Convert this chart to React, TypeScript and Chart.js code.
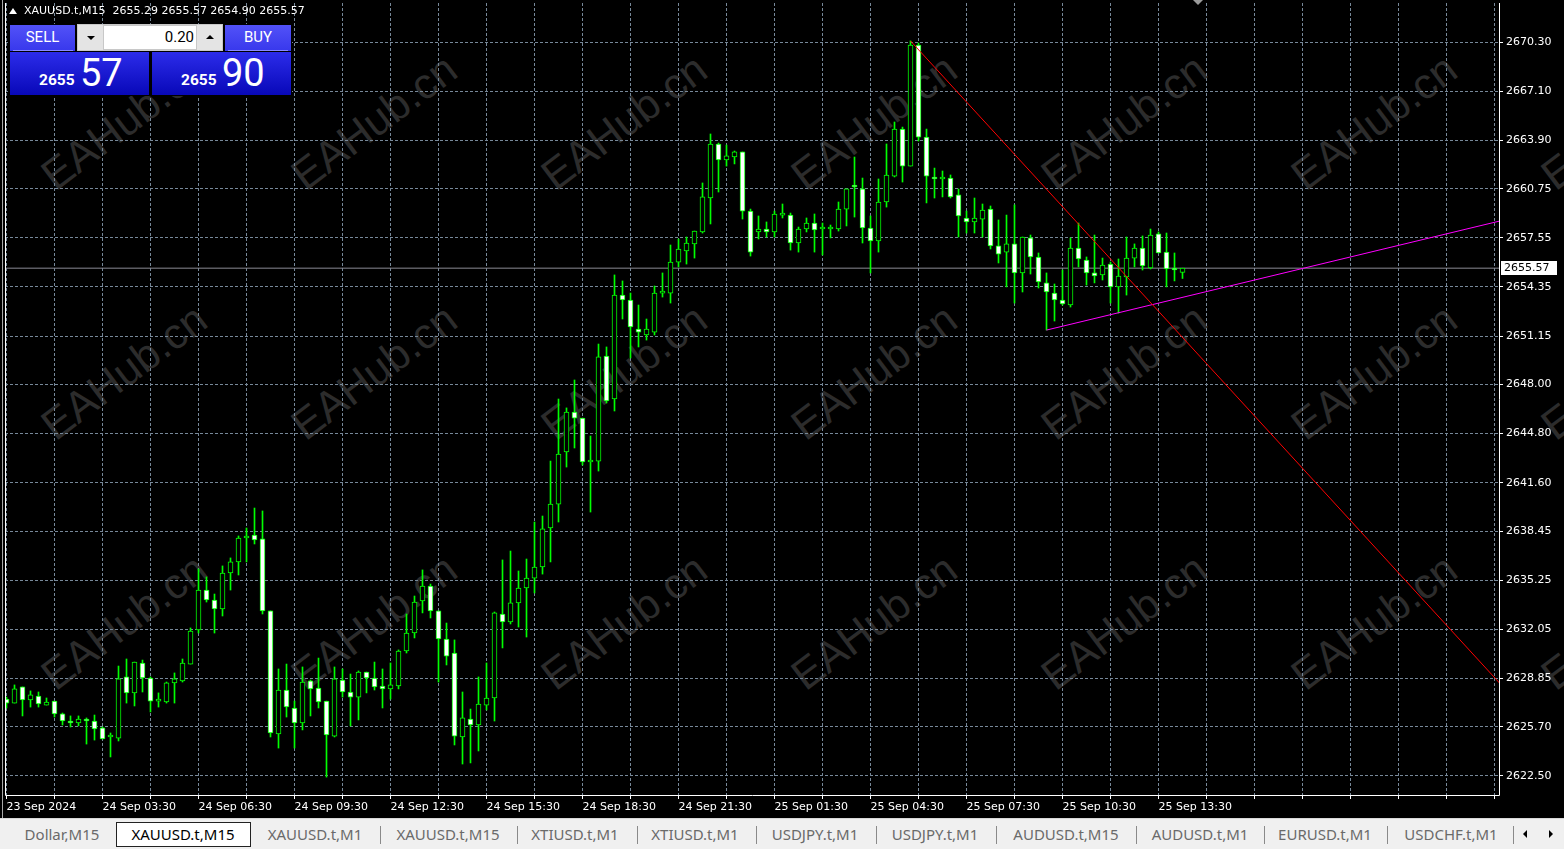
import React, { useEffect, useRef } from 'react';
import { Chart, registerables } from 'chart.js';

Chart.register(...registerables);

// ---- OHLC data (XAUUSD.t, M15), one entry per bar ----
const opens = [
  2627.51, 2627.25, 2628.30, 2627.45, 2627.71, 2627.12, 2627.38, 2626.54, 2626.08, 2625.95,
  2626.21, 2626.08, 2625.63, 2625.04, 2624.97, 2628.95, 2627.91, 2629.86, 2628.88, 2627.38,
  2627.32, 2628.56, 2628.69, 2629.79, 2632.01, 2634.61, 2633.96, 2633.38, 2635.72, 2636.44,
  2638.00, 2638.19, 2637.94, 2633.25, 2625.24, 2628.10, 2626.93, 2625.95, 2628.69, 2628.23,
  2627.38, 2625.10, 2628.75, 2627.97, 2627.64, 2629.27, 2628.88, 2628.36, 2628.17, 2628.36,
  2630.64, 2631.81, 2633.90, 2634.87, 2633.25, 2631.42, 2630.51, 2625.04, 2626.21, 2625.82,
  2627.12, 2627.58, 2633.05, 2632.53, 2633.77, 2634.74, 2635.39, 2636.11, 2638.65, 2640.21,
  2643.60, 2646.20, 2645.81, 2642.95, 2643.01, 2649.85, 2647.05, 2653.82, 2653.50, 2651.61,
  2651.22, 2651.41, 2653.95, 2653.95, 2655.97, 2656.69, 2657.15, 2657.93, 2660.14, 2663.66,
  2662.62, 2662.81, 2663.14, 2659.29, 2657.93, 2658.12, 2657.93, 2659.03, 2659.03, 2657.21,
  2658.12, 2658.51, 2658.12, 2658.12, 2658.12, 2659.42, 2660.92, 2660.73, 2658.19, 2657.34,
  2659.88, 2661.57, 2664.63, 2662.22, 2670.10, 2664.11, 2661.51, 2661.38, 2661.44, 2660.34,
  2658.84, 2658.58, 2658.77, 2659.42, 2657.02, 2656.62, 2657.15, 2655.26, 2657.54, 2656.30,
  2654.61, 2653.95, 2653.50, 2653.17, 2656.88, 2656.10, 2655.26, 2655.13, 2655.84, 2654.35,
  2655.00, 2656.23, 2656.88, 2655.58, 2657.80, 2656.62, 2655.58, 2655.29,
];
const highs = [
  2627.64, 2628.43, 2628.30, 2628.04, 2627.97, 2627.58, 2627.38, 2626.60, 2626.41, 2626.41,
  2626.28, 2626.47, 2625.69, 2625.30, 2629.66, 2630.12, 2629.92, 2630.05, 2628.95, 2627.91,
  2628.62, 2629.21, 2630.12, 2632.14, 2635.98, 2635.46, 2634.35, 2636.18, 2636.70, 2638.13,
  2638.65, 2639.95, 2639.76, 2633.25, 2629.47, 2629.79, 2627.38, 2629.60, 2628.75, 2630.18,
  2627.38, 2629.60, 2629.47, 2629.14, 2629.34, 2629.27, 2629.92, 2629.47, 2629.86, 2630.71,
  2633.05, 2634.22, 2635.92, 2635.00, 2633.25, 2632.46, 2631.36, 2627.97, 2626.86, 2628.95,
  2629.86, 2633.18, 2636.57, 2637.15, 2635.85, 2636.63, 2639.04, 2639.43, 2643.01, 2647.05,
  2646.47, 2648.29, 2645.81, 2644.64, 2650.63, 2650.44, 2655.13, 2654.74, 2653.95, 2653.17,
  2652.26, 2654.41, 2655.26, 2657.08, 2657.47, 2657.60, 2657.99, 2661.12, 2664.31, 2663.72,
  2663.59, 2663.20, 2663.14, 2659.42, 2658.97, 2658.58, 2659.29, 2659.75, 2659.16, 2658.25,
  2658.84, 2659.10, 2658.51, 2658.38, 2659.88, 2660.73, 2662.81, 2661.44, 2658.97, 2661.38,
  2663.66, 2665.09, 2664.76, 2670.37, 2670.23, 2664.63, 2662.09, 2661.90, 2661.64, 2660.73,
  2659.29, 2660.14, 2659.75, 2659.62, 2658.71, 2659.03, 2659.69, 2657.60, 2657.73, 2656.56,
  2655.26, 2654.54, 2655.45, 2657.54, 2658.51, 2656.30, 2657.73, 2656.23, 2655.97, 2656.17,
  2657.60, 2657.15, 2657.67, 2658.12, 2657.93, 2657.86, 2656.56, 2655.57,
];
const lows = [
  2626.93, 2627.25, 2626.41, 2626.99, 2626.99, 2627.12, 2626.34, 2625.82, 2625.69, 2625.76,
  2624.58, 2624.84, 2624.91, 2623.74, 2624.78, 2627.25, 2627.06, 2627.97, 2626.67, 2626.99,
  2627.25, 2627.25, 2628.62, 2629.79, 2631.81, 2633.83, 2631.81, 2632.92, 2634.61, 2635.59,
  2636.44, 2637.61, 2633.05, 2625.04, 2624.32, 2626.34, 2624.32, 2625.50, 2626.41, 2626.93,
  2622.43, 2625.04, 2627.64, 2625.76, 2626.15, 2627.91, 2628.10, 2626.93, 2627.51, 2628.17,
  2630.51, 2631.49, 2633.12, 2632.79, 2628.62, 2629.73, 2624.52, 2623.28, 2623.35, 2624.13,
  2626.80, 2626.08, 2630.84, 2632.40, 2632.20, 2631.55, 2634.42, 2635.65, 2636.44, 2639.04,
  2642.62, 2643.86, 2642.75, 2639.69, 2642.36, 2646.79, 2646.27, 2652.26, 2649.72, 2650.44,
  2650.89, 2651.22, 2653.69, 2653.30, 2655.65, 2655.84, 2656.23, 2657.86, 2658.45, 2660.53,
  2662.22, 2662.36, 2658.77, 2656.36, 2657.47, 2657.60, 2657.60, 2658.84, 2656.75, 2656.62,
  2657.93, 2656.62, 2656.43, 2657.54, 2657.99, 2658.32, 2658.90, 2657.21, 2655.26, 2656.62,
  2659.55, 2661.51, 2661.18, 2662.22, 2663.85, 2659.82, 2660.14, 2660.21, 2660.14, 2657.60,
  2657.86, 2657.86, 2657.60, 2656.82, 2655.91, 2654.35, 2653.30, 2654.02, 2655.19, 2654.28,
  2651.54, 2652.13, 2653.17, 2653.04, 2655.65, 2654.47, 2654.61, 2654.80, 2653.30, 2652.65,
  2653.82, 2655.65, 2655.45, 2655.52, 2656.56, 2654.35, 2654.74, 2654.90,
];
const closes = [
  2627.25, 2628.17, 2627.45, 2627.78, 2627.19, 2627.32, 2626.54, 2626.08, 2625.95, 2626.21,
  2626.08, 2625.56, 2624.91, 2625.04, 2628.82, 2627.91, 2629.92, 2628.88, 2627.38, 2627.40,
  2628.56, 2628.82, 2629.86, 2631.94, 2634.61, 2633.96, 2633.38, 2635.72, 2636.44, 2638.00,
  2638.13, 2637.87, 2633.25, 2625.30, 2628.10, 2626.99, 2625.95, 2628.62, 2628.17, 2627.32,
  2625.17, 2628.82, 2627.97, 2627.64, 2629.27, 2628.88, 2628.30, 2628.17, 2628.43, 2630.64,
  2631.81, 2633.83, 2634.87, 2633.25, 2631.42, 2630.31, 2625.10, 2626.28, 2625.82, 2627.19,
  2627.58, 2633.12, 2632.53, 2633.77, 2634.74, 2635.39, 2636.11, 2638.59, 2640.21, 2643.47,
  2646.20, 2645.81, 2642.95, 2643.08, 2649.79, 2646.92, 2653.82, 2653.50, 2651.74, 2651.41,
  2651.61, 2653.95, 2653.97, 2655.97, 2656.82, 2657.21, 2657.99, 2660.21, 2663.66, 2662.62,
  2662.88, 2663.14, 2659.29, 2656.62, 2658.12, 2657.93, 2659.10, 2659.05, 2657.21, 2658.12,
  2658.51, 2658.06, 2658.14, 2658.14, 2659.42, 2660.73, 2660.86, 2658.19, 2657.34, 2659.88,
  2661.64, 2664.63, 2662.22, 2670.10, 2664.11, 2661.57, 2661.38, 2661.40, 2660.21, 2658.97,
  2658.58, 2658.84, 2659.36, 2657.02, 2656.49, 2657.15, 2655.26, 2657.60, 2656.30, 2654.67,
  2654.02, 2653.50, 2653.24, 2656.88, 2656.17, 2655.26, 2655.06, 2655.78, 2654.35, 2655.06,
  2656.23, 2656.88, 2655.71, 2657.73, 2656.56, 2655.52, 2655.45, 2655.57,
];

const xTickLabels = [
  '23 Sep 2024', '24 Sep 03:30', '24 Sep 06:30', '24 Sep 09:30', '24 Sep 12:30',
  '24 Sep 15:30', '24 Sep 18:30', '24 Sep 21:30', '25 Sep 01:30', '25 Sep 04:30',
  '25 Sep 07:30', '25 Sep 10:30', '25 Sep 13:30',
];
const yTickLabels = [
  '2670.30', '2667.10', '2663.90', '2660.75', '2657.55', '2654.35', '2651.15', '2648.00',
  '2644.80', '2641.60', '2638.45', '2635.25', '2632.05', '2628.85', '2625.70', '2622.50',
];

const bidPrice = 2655.57;
const headerQuote = ['2655.29', '2655.57', '2654.90', '2655.57'];
const lotSize = '0.20';
const sellPrice = ['2655', '57'];
const buyPrice = ['2655', '90'];

// trend lines: [bar index, price]
const redTrend = [{ x: 113, y: 2670.37 }, { x: 190, y: 2626.64 }];
const magentaTrend = [{ x: 130, y: 2651.54 }, { x: 190, y: 2659.06 }];

const tabLabels = [
  'Dollar,M15', 'XAUUSD.t,M15', 'XAUUSD.t,M1', 'XAUUSD.t,M15', 'XTIUSD.t,M1', 'XTIUSD.t,M1',
  'USDJPY.t,M1', 'USDJPY.t,M1', 'AUDUSD.t,M15', 'AUDUSD.t,M1', 'EURUSD.t,M1', 'USDCHF.t,M1',
];
const activeTab = 1;

// ---- layout constants ----
const W = 1564;
const CANVAS_H = 818;
const tabCenters = [62, 183, 315, 448, 575, 695, 815, 935, 1066, 1200, 1325, 1451];
const tabSeparators = [380, 517, 637, 756, 876, 996, 1136, 1264, 1387, 1513];
const watermarkCols = [124, 374, 624, 874, 1124, 1374, 1624];
const watermarkRows = [122, 372, 622];

const FONT = 'DejaVu Sans';
const LIME = '#00ff00';
const GRID = '#778899';

const framePlugin = {
  id: 'mtFrame',
  afterDraw(chart: any) {
    const { ctx, chartArea } = chart;
    const { left, right, top, bottom } = chartArea;
    ctx.save();
    ctx.strokeStyle = '#ffffff';
    ctx.lineWidth = 1;
    ctx.beginPath();
    ctx.moveTo(left + 0.5, top);
    ctx.lineTo(left + 0.5, bottom + 0.5);
    ctx.lineTo(right + 0.5, bottom + 0.5);
    ctx.lineTo(right + 0.5, top);
    ctx.stroke();
    const y = Math.round(chart.scales.y.getPixelForValue(bidPrice));
    ctx.fillStyle = '#ffffff';
    ctx.fillRect(right + 2, y - 7, 56, 14);
    ctx.fillStyle = '#000000';
    ctx.font = `11px "${FONT}"`;
    ctx.textBaseline = 'middle';
    ctx.textAlign = 'left';
    ctx.fillText(bidPrice.toFixed(2), right + 5, y + 0.5);
    ctx.restore();
  },
};

const zeroPad = (s: any) => {
  s.paddingTop = 0;
  s.paddingBottom = 0;
  s.paddingLeft = 0;
  s.paddingRight = 0;
};

function CandleChart() {
  const ref = useRef<HTMLCanvasElement | null>(null);
  useEffect(() => {
    if (!ref.current) return;
    const n = opens.length;
    const wickData = [] as any[];
    const bodyData = [] as any[];
    const bodyColors = [] as string[];
    for (let i = 0; i < n; i++) {
      wickData.push({ x: i, y: [lows[i], highs[i]] });
      bodyData.push({ x: i, y: [Math.min(opens[i], closes[i]), Math.max(opens[i], closes[i])] });
      bodyColors.push(closes[i] < opens[i] ? '#ffffff' : '#000000');
    }
    const xGridTicks: number[] = [];
    for (let k = 0; k <= 186; k += 6) xGridTicks.push(k);

    const chart = new Chart(ref.current, {
      type: 'bar',
      data: {
        datasets: [
          {
            type: 'line',
            label: 'bid',
            data: [{ x: -1, y: bidPrice }, { x: 200, y: bidPrice }],
            borderColor: '#8a8a94',
            borderWidth: 1,
            pointRadius: 0,
            order: 3,
          } as any,
          {
            type: 'bar',
            label: 'wicks',
            data: wickData,
            backgroundColor: LIME,
            borderWidth: 0,
            barThickness: 1,
            grouped: false,
            order: 2,
          } as any,
          {
            type: 'bar',
            label: 'bodies',
            data: bodyData,
            backgroundColor: bodyColors,
            borderColor: LIME,
            borderWidth: 1,
            borderSkipped: false,
            barThickness: 5,
            minBarLength: 2,
            grouped: false,
            order: 1,
          } as any,
          {
            type: 'line',
            label: 'trend red',
            data: redTrend,
            borderColor: '#ff0000',
            borderWidth: 1,
            pointRadius: 0,
            order: 0,
          } as any,
          {
            type: 'line',
            label: 'trend magenta',
            data: magentaTrend,
            borderColor: '#ff00ff',
            borderWidth: 1,
            pointRadius: 0,
            order: 0,
          } as any,
        ],
      },
      options: {
        animation: false,
        responsive: false,
        devicePixelRatio: 1,
        events: [],
        layout: { padding: { left: 5, top: 3, right: 0, bottom: 0 }, autoPadding: false } as any,
        plugins: { legend: { display: false }, tooltip: { enabled: false } },
        scales: {
          x: {
            type: 'linear',
            min: -0.1875,
            max: 186.5625,
            offset: false,
            afterBuildTicks: (s: any) => {
              s.ticks = xGridTicks.map((v) => ({ value: v }));
            },
            afterFit: (s: any) => {
              s.height = CANVAS_H - 795;
              zeroPad(s);
            },
            grid: { color: GRID, lineWidth: 1, tickColor: '#ffffff', tickLength: 4, offset: false },
            border: { display: false, dash: [3, 2] },
            ticks: {
              color: '#ffffff',
              font: { family: FONT, size: 11 },
              autoSkip: false,
              maxRotation: 0,
              minRotation: 0,
              align: 'start',
              padding: 2,
              callback: (v: any) => {
                const k = Number(v);
                return k % 12 === 0 ? xTickLabels[k / 12] ?? '' : '';
              },
            },
          } as any,
          y: {
            type: 'linear',
            position: 'right',
            min: 2621.262,
            max: 2672.84,
            afterBuildTicks: (s: any) => {
              s.ticks = yTickLabels.map((t) => ({ value: parseFloat(t) }));
            },
            afterFit: (s: any) => {
              s.width = W - 1499;
              zeroPad(s);
            },
            grid: { color: GRID, lineWidth: 1, tickColor: '#ffffff', tickLength: 4 },
            border: { display: false, dash: [3, 2] },
            ticks: {
              color: '#ffffff',
              font: { family: FONT, size: 11 },
              padding: 3,
              autoSkip: false,
              callback: (v: any) => Number(v).toFixed(2),
            },
          } as any,
        },
      },
      plugins: [framePlugin],
    });
    return () => chart.destroy();
  }, []);
  return (
    <canvas
      ref={ref}
      width={W}
      height={CANVAS_H}
      style={{ position: 'absolute', left: 0, top: 0, width: W, height: CANVAS_H, zIndex: 2 }}
    />
  );
}

const abs = (s: React.CSSProperties): React.CSSProperties => ({ position: 'absolute', ...s });

function TradePanel() {
  const topBtn: React.CSSProperties = {
    background: 'linear-gradient(#5252f8, #3838ec)',
    color: '#fff',
    fontFamily: 'Roboto',
    fontSize: 15,
    textAlign: 'center',
    lineHeight: '25px',
  };
  const priceBox: React.CSSProperties = {
    background: 'linear-gradient(#2c2cea, #0808b8)',
  };
  const small: React.CSSProperties = {
    fontFamily: 'Roboto', fontWeight: 700, fontSize: 15.5, lineHeight: 1, color: '#fff', whiteSpace: 'nowrap',
  };
  const big: React.CSSProperties = {
    fontFamily: 'Roboto', fontWeight: 400, fontSize: 38, lineHeight: 1, color: '#fff', whiteSpace: 'nowrap',
  };
  return (
    <div style={abs({ left: 0, top: 0, width: 300, height: 100, zIndex: 5 })}>
      <div style={abs({ left: 9, top: 24, width: 283, height: 72, background: '#000' })} />
      <div style={abs({ ...topBtn, left: 10, top: 25, width: 65, height: 26 })}>SELL</div>
      <div style={abs({ left: 13, top: 50, width: 60, height: 1, background: '#8a8aff' })} />
      <div style={abs({ left: 225, top: 25, width: 66, height: 26, ...topBtn })}>BUY</div>
      <div style={abs({ left: 228, top: 50, width: 60, height: 1, background: '#8a8aff' })} />
      <div style={abs({ left: 77, top: 24, width: 146, height: 27, background: '#c8c8c8' })} />
      <div style={abs({ left: 78, top: 25, width: 25, height: 25, background: '#e4e4e4' })} />
      <div style={abs({ left: 87, top: 36, width: 0, height: 0, borderLeft: '4px solid transparent', borderRight: '4px solid transparent', borderTop: '4px solid #000' })} />
      <div style={abs({ left: 104, top: 26, width: 92, height: 23, background: '#fff', color: '#000', fontFamily: 'Roboto', fontSize: 15, lineHeight: '23px', textAlign: 'right', paddingRight: 0, boxSizing: 'border-box' })}>
        <span style={{ marginRight: 2 }}>{lotSize}</span>
      </div>
      <div style={abs({ left: 197, top: 25, width: 25, height: 25, background: '#e4e4e4' })} />
      <div style={abs({ left: 206, top: 35, width: 0, height: 0, borderLeft: '4px solid transparent', borderRight: '4px solid transparent', borderBottom: '4px solid #000' })} />
      <div style={abs({ ...priceBox, left: 10, top: 52, width: 139, height: 43 })} />
      <div style={abs({ ...priceBox, left: 152, top: 52, width: 139, height: 43 })} />
      <div style={abs({ ...small, left: 39, top: 73 })}>{sellPrice[0]}</div>
      <div style={abs({ ...big, left: 80, top: 54 })}>{sellPrice[1]}</div>
      <div style={abs({ ...small, left: 181, top: 73 })}>{buyPrice[0]}</div>
      <div style={abs({ ...big, left: 222, top: 54 })}>{buyPrice[1]}</div>
    </div>
  );
}

function Header() {
  return (
    <div style={abs({ left: 9, top: 4, zIndex: 5, color: '#fff', fontFamily: FONT, fontSize: 11, whiteSpace: 'pre', lineHeight: '14px', display: 'flex', alignItems: 'center' })}>
      <span style={{ display: 'inline-block', width: 0, height: 0, borderLeft: '4px solid transparent', borderRight: '4px solid transparent', borderBottom: '6px solid #fff', marginRight: 7 }} />
      <span>{'XAUUSD.t,M15  ' + headerQuote.join(' ')}</span>
    </div>
  );
}

function Watermarks() {
  const items: React.ReactNode[] = [];
  watermarkRows.forEach((cy, r) =>
    watermarkCols.forEach((cx, c) => {
      items.push(
        <div
          key={`${r}-${c}`}
          style={abs({
            left: cx,
            top: cy,
            transform: 'translate(-50%, -50%) rotate(-37deg)',
            fontFamily: 'Liberation Sans',
            fontSize: 43,
            color: '#2c2c2c',
            whiteSpace: 'nowrap',
            lineHeight: 1,
          })}
        >
          EAHub.cn
        </div>,
      );
    }),
  );
  return <div style={abs({ left: 0, top: 0, width: W, height: 795, overflow: 'hidden', zIndex: 1 })}>{items}</div>;
}

function TabBar() {
  return (
    <div style={abs({ left: 0, top: CANVAS_H, width: W, height: 849 - CANVAS_H, background: '#f0f0f0', borderTop: '1px solid #d8d8d8', boxSizing: 'border-box', zIndex: 5 })}>
      <div style={abs({ left: 116, top: 3, width: 135, height: 25, background: '#fff', border: '1px solid #222', boxSizing: 'border-box' })} />
      {tabLabels.map((t, i) => (
        <div
          key={i}
          style={abs({
            left: tabCenters[i] - 80,
            width: 160,
            top: 4,
            height: 22,
            lineHeight: '22px',
            textAlign: 'center',
            fontFamily: 'Noto Sans',
            fontSize: 15,
            color: i === activeTab ? '#000' : '#6a6a6a',
            whiteSpace: 'nowrap',
          })}
        >
          {t}
        </div>
      ))}
      {tabSeparators.map((x, i) => (
        <div key={i} style={abs({ left: x, top: 7, width: 1, height: 18, background: '#8a8a8a' })} />
      ))}
      <div style={abs({ left: 1523, top: 11, width: 0, height: 0, borderTop: '4px solid transparent', borderBottom: '4px solid transparent', borderRight: '4px solid #000' })} />
      <div style={abs({ left: 1549, top: 11, width: 0, height: 0, borderTop: '4px solid transparent', borderBottom: '4px solid transparent', borderLeft: '4px solid #000' })} />
    </div>
  );
}

export default function App() {
  return (
    <div style={{ position: 'absolute', left: 0, top: 0, width: W, height: 849, background: '#000', overflow: 'hidden' }}>
      <Watermarks />
      <CandleChart />
      <div style={abs({ left: 2, top: 0, width: 1, height: CANVAS_H, background: '#a8a8a8', zIndex: 3 })} />
      <div style={abs({ left: 1193, top: 0, width: 0, height: 0, borderLeft: '5px solid transparent', borderRight: '5px solid transparent', borderTop: '5px solid #9a9a9a', zIndex: 3 })} />
      <Header />
      <TradePanel />
      <TabBar />
    </div>
  );
}
